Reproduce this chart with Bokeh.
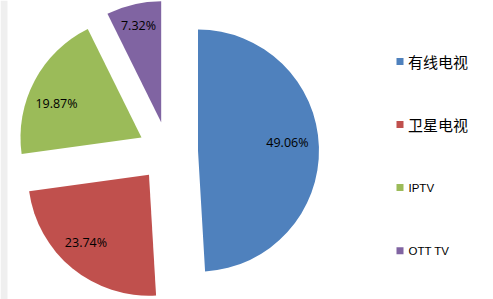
import math
from bokeh.plotting import figure
from bokeh.models import Range1d, ColumnDataSource
from bokeh.core.properties import value
from bokeh.embed import file_html
from bokeh.resources import INLINE

categories = ["有线电视", "卫星电视", "IPTV", "OTT TV"]
shares = [49.06, 23.74, 19.87, 7.32]
colors = ["#4F81BD", "#C0504D", "#9BBB59", "#8064A2"]

W, H = 493, 299
cx, cy = 167.5, H - 151
R = 121
EXPLODE = 30
# small pixel nudges of the data labels (styling)
label_nudge = [(-2.5, 5.4), (-4.7, 3.6), (-3.7, -8.7), (-1.7, 7.2)]

p = figure(width=W, height=H, x_range=Range1d(0, W), y_range=Range1d(0, H),
           output_backend="svg", toolbar_location=None,
           x_axis_location=None, y_axis_location=None, min_border=0)
p.grid.visible = False
p.outline_line_color = None
p.background_fill_color = "white"
p.border_fill_color = "white"

# grey strip on left edge
p.quad(left=[0], right=[7], bottom=[0], top=[H], fill_color="#EFEFEF", line_color=None)

total = sum(shares)
xs, ys, starts, ends, lx, ly, labels = [], [], [], [], [], [], []
acc = 0.0
for s, (ndx, ndy) in zip(shares, label_nudge):
    t0 = acc / total * 360
    t1 = (acc + s) / total * 360
    mid = math.radians((t0 + t1) / 2)
    ax = cx + EXPLODE * math.sin(mid)
    ay = cy + EXPLODE * math.cos(mid)
    xs.append(ax); ys.append(ay)
    starts.append(90 - t0); ends.append(90 - t1)
    lx.append(ax + 0.76 * R * math.sin(mid) + ndx)
    ly.append(ay + 0.76 * R * math.cos(mid) + ndy)
    labels.append(f"{s:.2f}%")
    acc += s

src = ColumnDataSource(dict(x=xs, y=ys, s=starts, e=ends, c=colors))
p.wedge(x="x", y="y", radius=R, start_angle="s", end_angle="e",
        start_angle_units="deg", end_angle_units="deg", direction="clock",
        fill_color="c", line_color=None, source=src)

p.text(x=lx, y=ly, text=labels, text_align="center", text_baseline="middle",
       text_font=value("Open Sans"), text_font_size="12.5px", text_color="#000000")

# legend
leg_y = [H - 61, H - 124, H - 187, H - 250.3]
p.rect(x=[399.5] * 4, y=leg_y, width=7, height=7, fill_color=colors, line_color=None)
for lab, yy in zip(categories, leg_y):
    if lab.isascii():
        p.text(x=[408], y=[yy], text=[lab], text_align="left", text_baseline="middle",
               text_font=value("Liberation Sans"), text_font_size="11.5px", text_color="#000000")
    else:
        p.text(x=[407.5], y=[yy], text=[lab], text_align="left", text_baseline="middle",
               text_font=value("Noto Sans CJK SC"), text_font_size="15px", text_color="#000000")

open("out.html", "w").write(file_html(p, INLINE))
